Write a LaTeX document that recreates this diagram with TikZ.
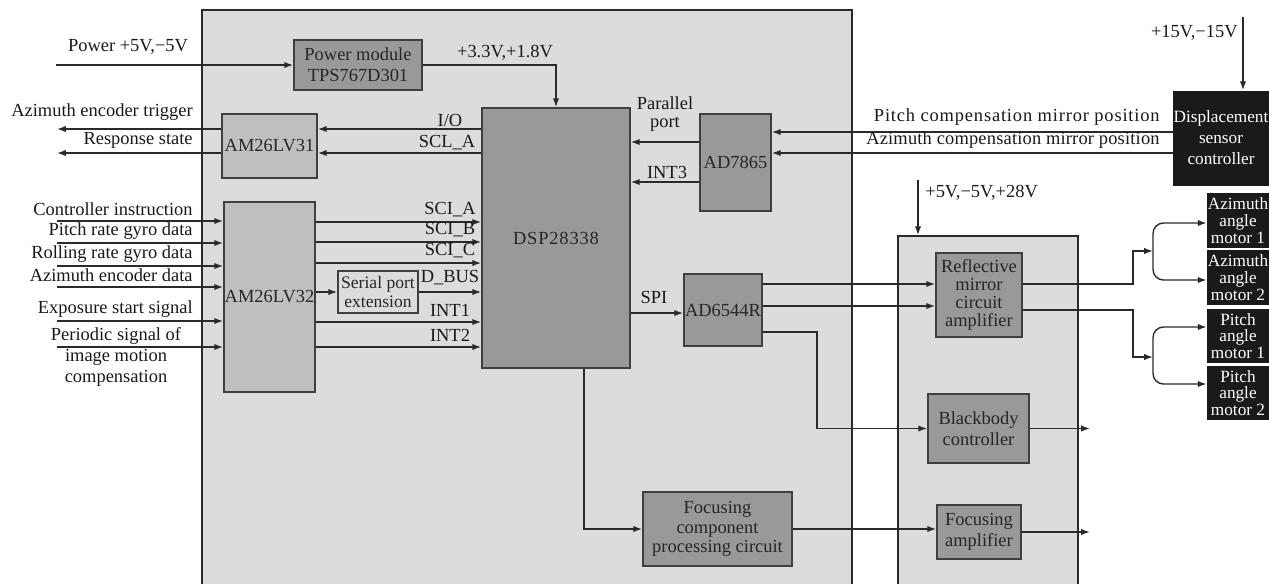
\documentclass[tikz,border=0pt]{standalone}
\usepackage{fontspec}
\setmainfont{Liberation Serif}
\usetikzlibrary{arrows.meta}

\definecolor{panelgray}{HTML}{DCDCDC}
\definecolor{chipgray}{HTML}{999999}
\definecolor{drvgray}{HTML}{BFBFBF}
\definecolor{wiregray}{HTML}{2A2A2A}
\definecolor{motorblack}{HTML}{1A1A1A}

\begin{document}
\begin{tikzpicture}[x=0.02cm, y=-0.02cm,
  font=\fontsize{10.5}{12}\selectfont,
  sz/.style 2 args={minimum width=#1*0.02cm, minimum height=#2*0.02cm},
  panel/.style={draw=wiregray, line width=1pt, fill=panelgray, inner sep=0pt},
  chip/.style={draw=wiregray!90, line width=1pt, fill=chipgray, inner sep=0pt, align=center, text=black!85},
  driver/.style={chip, fill=drvgray},
  plain/.style={chip, fill=panelgray},
  motor/.style={fill=motorblack, inner sep=0pt, align=center, text=white, font=\fontsize{9.8}{9.6}\selectfont},
  lbl/.style={inner sep=0pt, text=black!90},
  spaced/.style={font=\fontsize{10.5}{12}\selectfont\addfontfeature{LetterSpace=#1}},
  sig/.style={draw=wiregray, line width=0.8pt, -{Latex[length=5pt,width=3.6pt]}},
  wire/.style={draw=wiregray, line width=0.8pt}]
\useasboundingbox (0,0) rectangle (1269,583);
\clip (0,0) rectangle (1269,583);

% panels
\node[panel, sz={650}{590}] (lpan) at (527,305) {};
\node[panel, sz={180}{364}] (rpan) at (988,418) {};

% boxes
\node[chip, sz={128}{50}] (pwr) at (358,65) {Power module\\TPS767D301};
\node[chip, sz={148}{260}, spaced=4.5] (dsp) at (556,238) {DSP28338};
\node[driver, sz={95}{64}] (lvA) at (269.5,146) {AM26LV31};
\node[driver, sz={91}{190}] (lvB) at (269.5,297) {AM26LV32};
\node[plain, sz={80}{42}, font=\fontsize{10}{11}\selectfont] (ser) at (378,292) {Serial port\\extension};
\node[chip, sz={71}{97}] (adc) at (735.5,162.5) {AD7865};
\node[chip, sz={78}{72}] (rdc) at (723,310) {AD6544R};
\node[chip, sz={149}{74}, font=\fontsize{10.5}{11}\selectfont] (fcp) at (717.5,529) {Focusing\\component\\processing circuit};
\node[chip, sz={86}{84}, font=\fontsize{10.5}{10.2}\selectfont] (refl) at (979,295) {Reflective\\mirror\\circuit\\amplifier};
\node[chip, sz={101}{69}] (bb) at (978.5,428.5) {Blackbody\\controller};
\node[chip, sz={84}{54}] (famp) at (979,532) {Focusing\\amplifier};
\node[motor, sz={96}{95}, font=\fontsize{9.8}{12}\selectfont] (disp) at (1221,138) {Displacement\\sensor\\controller};
\node[motor, sz={62}{55}] (am1) at (1238,220.5) {Azimuth\\angle\\motor 1};
\node[motor, sz={62}{55}] (am2) at (1238,277.5) {Azimuth\\angle\\motor 2};
\node[motor, sz={62}{54}] (pm1) at (1238,336) {Pitch\\angle\\motor 1};
\node[motor, sz={62}{54}] (pm2) at (1238,393) {Pitch\\angle\\motor 2};

% power
\coordinate (pin) at (56,65);
\draw[sig] (pin) -- (pwr.west);
\node[lbl] (pinl) at (128,47) {Power +5V,−5V};
\draw[sig] (pwr.east) -| (dsp.north);
\node[lbl] (vcc) at (505,53) {+3.3V,+1.8V};
\coordinate (ptop) at (1243,17);
\draw[sig] (ptop) -- (ptop |- disp.north);
\node[lbl, anchor=east] (p15) at (1238,33) {+15V,−15V};
\coordinate (rtop) at (918,180);
\draw[sig] (rtop) -- (rtop |- rpan.north);
\node[lbl, anchor=west] (p28) at (925,193) {+5V,−5V,+28V};

% AM26LV31 side
\draw[sig] (dsp.west |- 0,129) -- (lvA.east |- 0,129);
\draw[sig] (dsp.west |- 0,153) -- (lvA.east |- 0,153);
\node[lbl] (io) at (450,120) {I/O};
\node[lbl] (scl) at (447,143) {SCL\_A};
\coordinate (out1) at (57,129);
\coordinate (out2) at (57,153);
\draw[sig] (lvA.west |- out1) -- (out1);
\draw[sig] (lvA.west |- out2) -- (out2);
\node[lbl, anchor=east] at (193,112) {Azimuth encoder trigger};
\node[lbl, anchor=east] at (193,140) {Response state};

% AM26LV32 inputs
\foreach \y/\txt [count=\i] in {221/Controller instruction, 243/Pitch rate gyro data,
    266/Rolling rate gyro data, 287/Azimuth encoder data, 321/Exposure start signal, 347/{}}{
  \coordinate (in\i) at (57,\y);
  \draw[sig] (in\i) -- (lvB.west |- in\i);
  \node[lbl, anchor=east] (inl\i) at (193,\y-12) {\txt};
}
\node[lbl, align=center] (inl6) at (116,357) {Periodic signal of\\image motion\\compensation};

% AM26LV32 to DSP
\foreach \y/\txt in {222/SCI\_A, 242/SCI\_B, 263/SCI\_C, 322/INT1, 347/INT2}{
  \draw[sig] (lvB.east |- 0,\y) -- (dsp.west |- 0,\y);
  \node[lbl] at (450,\y-12) {\txt};
}
\draw[sig] (lvB.east |- ser.west) -- (ser.west);
\draw[sig] (ser.east) -- (dsp.west |- ser.east);
\node[lbl] (dbus) at (450,278) {D\_BUS};

% AD7865
\draw[sig] (adc.west |- 0,142) -- (dsp.east |- 0,142);
\draw[sig] (adc.west |- 0,182) -- (dsp.east |- 0,182);
\node[lbl, align=center, font=\fontsize{10.5}{10.5}\selectfont] (par) at (665,114) {Parallel\\port};
\node[lbl] (int3) at (667,172) {INT3};
\draw[sig] (disp.west |- 0,132) -- (adc.east |- 0,132);
\draw[sig] (disp.west |- 0,153) -- (adc.east |- 0,153);
\node[lbl, anchor=east, spaced=4.5] at (1160,117) {Pitch compensation mirror position};
\node[lbl, anchor=east, spaced=1] at (1160,140) {Azimuth compensation mirror position};

% AD6544R
\draw[sig] (dsp.east |- 0,313) -- (rdc.west |- 0,313);
\node[lbl] (spi) at (654,297) {SPI};
\draw[sig] (rdc.east |- 0,284) -- (refl.west |- 0,284);
\draw[sig] (rdc.east |- 0,306) -- (refl.west |- 0,306);
\draw[sig] (rdc.east |- 0,332) -| (817,380) |- (bb.west);
\draw[sig] (bb.east) -- (1090,0 |- bb.east);

% focusing
\draw[sig] (584,0 |- dsp.south) |- (fcp.west);
\draw[sig] (fcp.east) -- (famp.west |- fcp.east);
\draw[sig] (famp.east) -- (1090,0 |- famp.east);

% motors
\coordinate (ja) at (1153,251);
\coordinate (jp) at (1153,357);
\draw[sig] (refl.east |- 0,284) -| (1133,260) |- (ja);
\draw[sig] (refl.east |- 0,310) -| (1133,340) |- (jp);
\draw[sig, rounded corners=6pt] (ja) |- (am1.west |- 0,223);
\draw[sig, rounded corners=6pt] (ja) |- (am2.west |- 0,280);
\draw[sig, rounded corners=6pt] (jp) |- (pm1.west |- 0,327);
\draw[sig, rounded corners=6pt] (jp) |- (pm2.west |- 0,384);
\end{tikzpicture}
\end{document}
